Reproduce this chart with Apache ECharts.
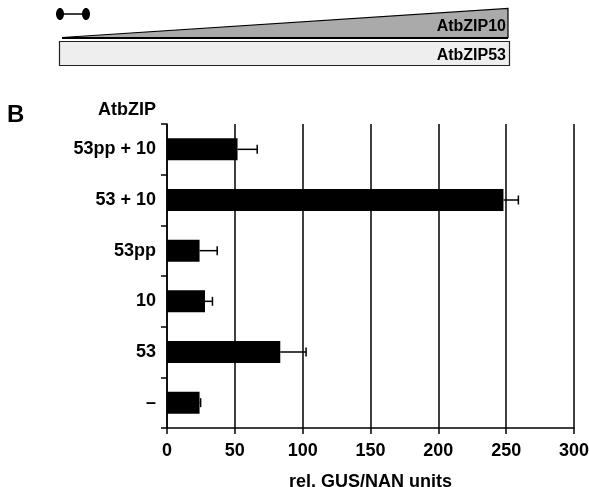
<!DOCTYPE html>
<html><head><meta charset="utf-8">
<script src="https://cdn.jsdelivr.net/npm/echarts@6/dist/echarts.min.js"></script>
<style>html,body{margin:0;padding:0;background:#fff}#c{width:589px;height:487px}</style>
</head><body><div id="c"></div>
<script>
const categories = ['53pp + 10', '53 + 10', '53pp', '10', '53', '–'];
const means = [52, 248, 24, 28, 83.5, 24];
const errors = [14.5, 11, 13, 5.5, 19, 0.8];
const xTicks = [0, 50, 100, 150, 200, 250, 300];
const xTitle = 'rel. GUS/NAN units';
const yTitle = 'AtbZIP';

const font = 'Liberation Sans, Arial, Helvetica, sans-serif';
const chart = echarts.init(document.getElementById('c'), null, {renderer: 'canvas'});
const errData = means.map((m, i) => [m, i, m + errors[i]]);

chart.setOption({
  animation: false,
  backgroundColor: '#fff',
  grid: {left: 167, right: 15, top: 124, bottom: 59, containLabel: false, outerBoundsMode: 'none'},
  xAxis: {
    type: 'value', min: xTicks[0], max: xTicks[xTicks.length - 1], interval: 50,
    axisLine: {show: true, lineStyle: {color: '#000', width: 1.5}},
    axisTick: {show: true, length: 6, lineStyle: {color: '#000', width: 1.5}},
    splitLine: {show: true, lineStyle: {color: '#000', width: 1.5}},
    axisLabel: {color: '#000', fontSize: 18, fontWeight: 'bold', fontFamily: font, margin: 14},
    name: xTitle, nameLocation: 'middle', nameGap: 45,
    nameTextStyle: {color: '#000', fontSize: 18, fontWeight: 'bold', fontFamily: font}
  },
  yAxis: {
    type: 'category', data: categories, inverse: true,
    axisLine: {show: true, lineStyle: {color: '#000', width: 1.5}},
    axisTick: {show: true, length: 6, lineStyle: {color: '#000', width: 1.5}},
    splitLine: {show: false},
    axisLabel: {color: '#000', fontSize: 18, fontWeight: 'bold', fontFamily: font, margin: 11}
  },
  series: [
    {type: 'bar', data: means, barWidth: 22, itemStyle: {color: '#000'}, z: 3},
    {type: 'custom', data: errData, z: 4,
      renderItem: function (params, api) {
        const y = api.value(1);
        const p0 = api.coord([api.value(0), y]);
        const p1 = api.coord([api.value(2), y]);
        const h = 4.5;
        return {type: 'group', children: [
          {type: 'line', shape: {x1: p0[0], y1: p0[1], x2: p1[0], y2: p1[1]}, style: {stroke: '#000', lineWidth: 1.5}},
          {type: 'line', shape: {x1: p1[0], y1: p1[1] - h, x2: p1[0], y2: p1[1] + h}, style: {stroke: '#000', lineWidth: 1.5}}
        ]};
      }
    }
  ],
  graphic: [
    {type: 'text', left: 7, top: 103, style: {text: 'B', font: 'bold 24px ' + font, fill: '#000'}},
    {type: 'text', x: 156, y: 110, style: {text: yTitle, font: 'bold 18px ' + font, fill: '#000', textAlign: 'right', textVerticalAlign: 'middle'}},
    {type: 'line', shape: {x1: 60, y1: 14, x2: 86, y2: 14}, style: {stroke: '#000', lineWidth: 1.5}},
    {type: 'ellipse', shape: {cx: 60, cy: 14, rx: 4, ry: 6}, style: {fill: '#000'}},
    {type: 'ellipse', shape: {cx: 86, cy: 14, rx: 4, ry: 6}, style: {fill: '#000'}},
    {type: 'polygon', shape: {points: [[62, 37.5], [508, 8.5], [508, 37.5]]}, style: {fill: '#aaaaaa', stroke: '#000', lineWidth: 1.2}},
    {type: 'line', shape: {x1: 62, y1: 38, x2: 508, y2: 38}, style: {stroke: '#000', lineWidth: 2}},
    {type: 'text', x: 506, y: 27, style: {text: 'AtbZIP10', font: 'bold 16px ' + font, fill: '#000', textAlign: 'right', textVerticalAlign: 'middle'}},
    {type: 'rect', shape: {x: 59.5, y: 41.5, width: 450, height: 24}, style: {fill: '#eeeeee', stroke: '#222', lineWidth: 1.2}},
    {type: 'text', x: 506, y: 56, style: {text: 'AtbZIP53', font: 'bold 16px ' + font, fill: '#000', textAlign: 'right', textVerticalAlign: 'middle'}}
  ]
});
</script>
</body></html>
